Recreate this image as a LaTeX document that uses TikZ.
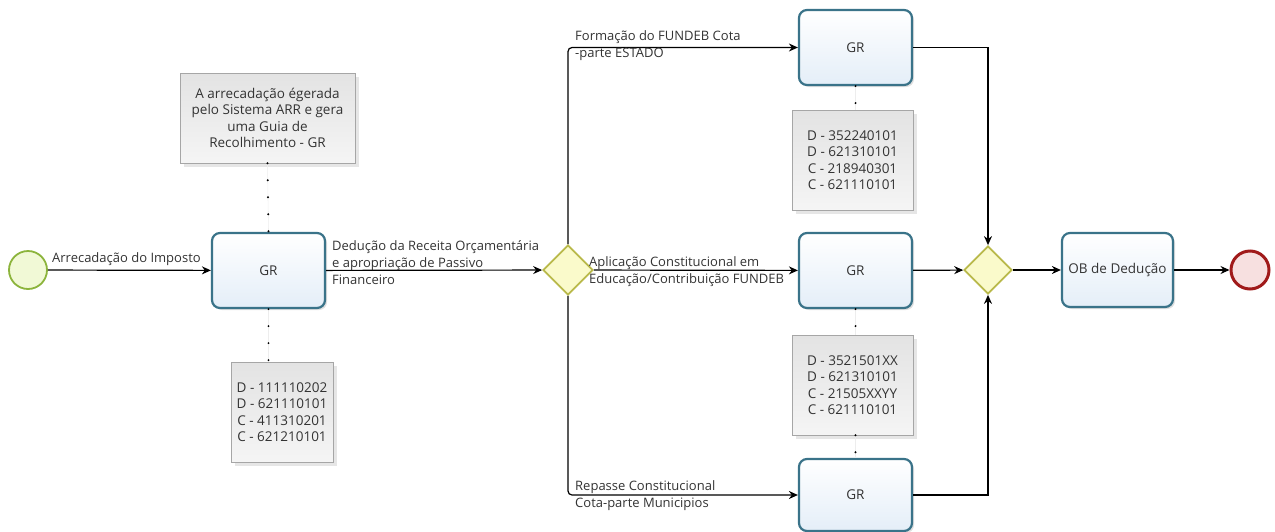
\documentclass[tikz,border=0pt]{standalone}
\usepackage{fontspec}
\setmainfont{Open Sans}
\usetikzlibrary{shapes.geometric,arrows.meta,shadows}

\definecolor{taskline}{HTML}{3A7389}
\definecolor{taskfill}{HTML}{E4EEF8}
\definecolor{startline}{HTML}{8CB43C}
\definecolor{startfill}{HTML}{F1F9D6}
\definecolor{endline}{HTML}{A01A1A}
\definecolor{endfill}{HTML}{F7E0E0}
\definecolor{gateline}{HTML}{B9B94A}
\definecolor{gatefill}{HTML}{FAFACB}
\definecolor{txt}{HTML}{333333}

\begin{document}
\begin{tikzpicture}[x=1pt, y=-1pt, font=\fontsize{13}{17}\selectfont, text=txt,
  task/.style={draw=taskline, line width=2.2pt, rounded corners=8pt,
    top color=white, bottom color=taskfill, minimum width=113pt,
    minimum height=75pt, inner sep=0pt, font=\fontsize{13.5}{17}\selectfont,
    drop shadow={shadow xshift=2pt, shadow yshift=-2pt, opacity=0.25}},
  note/.style={draw=black!35, line width=0.6pt, top color=black!11,
    bottom color=black!4, align=center, inner sep=0pt,
    font=\fontsize{13.5}{16.5}\selectfont,
    drop shadow={shadow xshift=4pt, shadow yshift=-4pt, opacity=0.2}},
  gate/.style={diamond, aspect=1, draw=gateline, line width=1.8pt,
    fill=gatefill, minimum width=50pt, minimum height=50pt, inner sep=0pt},
  lbl/.style={align=left, inner sep=0pt},
  flow/.style={line width=1.2pt, -{Stealth[length=9pt, width=8pt]}},
  assoc/.style={line width=2.2pt, line cap=round, dash pattern=on 0pt off 17pt,
    preaction={draw=black!7, solid, line width=0.6pt}}]
  \useasboundingbox (0,0) rectangle (1275,531);

  % events
  \node[circle, draw=startline, line width=1.8pt, fill=startfill,
    minimum size=38pt] (start) at (28,270) {};
  \node[circle, draw=endline, line width=3pt, fill=endfill,
    minimum size=38pt] (end) at (1250,270) {};

  % tasks
  \node[task] (gr) at (268.5,270.5) {GR};
  \node[task] (grA) at (855.5,47.5) {GR};
  \node[task] (grB) at (855.5,270.5) {GR};
  \node[task, minimum height=72pt] (grC) at (855.5,495) {GR};
  \node[task, minimum width=111pt, minimum height=74pt] (ob) at (1117.5,270) {OB de Dedução};

  % gateways
  \node[gate] (split) at (568,270) {};
  \node[gate, minimum width=48pt, minimum height=48pt] (join) at (988,270) {};

  % notes
  \node[note, minimum width=175pt, minimum height=90pt] (infoGR) at (267.5,118)
    {A arrecadação égerada\\pelo Sistema ARR e gera\\uma Guia de\\Recolhimento - GR};
  \node[note, minimum width=102pt, minimum height=100pt] (contaGR) at (282,412)
    {D - 111110202\\D - 621110101\\C - 411310201\\C - 621210101};
  \node[note, minimum width=121pt, minimum height=100pt] (contaA) at (852.5,160)
    {D - 352240101\\D - 621310101\\C - 218940301\\C - 621110101};
  \node[note, minimum width=121pt, minimum height=100pt] (contaB) at (852.5,385)
    {D - 3521501XX\\D - 621310101\\C - 21505XXYY\\C - 621110101};

  % associations
  \draw[assoc] (infoGR.south) -- (gr.north);
  \draw[assoc] (gr.south) -- (gr.south |- contaGR.north);
  \draw[assoc] (grA.south) -- (grA.south |- contaA.north);
  \draw[assoc] (grB.south) -- (grB.south |- contaB.north);
  \draw[assoc] (contaB.south -| grC.north) -- (grC.north);

  % flows
  \draw[flow] (start) -- (gr);
  \draw[flow] (gr) -- (split);
  \draw[flow, rounded corners=4pt] (split.north) |- (grA.west);
  \draw[flow] (split) -- (grB);
  \draw[flow, rounded corners=4pt] (split.south) |- (grC.west);
  \draw[flow] (grA.east) -| (join.north);
  \draw[flow] (grB) -- (join);
  \draw[flow] (grC.east) -| (join.south);
  \draw[flow] (join) -- (ob);
  \draw[flow] (ob) -- (end);

  % flow labels
  \node[lbl, anchor=base west] (lStart) at (52,262) {Arrecadação do Imposto};
  \node[lbl, anchor=west] (lDeducao) at (332,263)
    {Dedução da Receita Orçamentária\\e apropriação de Passivo\\Financeiro};
  \node[lbl, anchor=west] (lEstado) at (575,46)
    {Formação do FUNDEB Cota\\-parte ESTADO};
  \node[lbl, anchor=west] (lAplic) at (589,272)
    {Aplicação Constitucional em\\Educação/Contribuição FUNDEB};
  \node[lbl, anchor=west] (lMunic) at (575,496)
    {Repasse Constitucional\\Cota-parte Municipios};
\end{tikzpicture}
\end{document}
